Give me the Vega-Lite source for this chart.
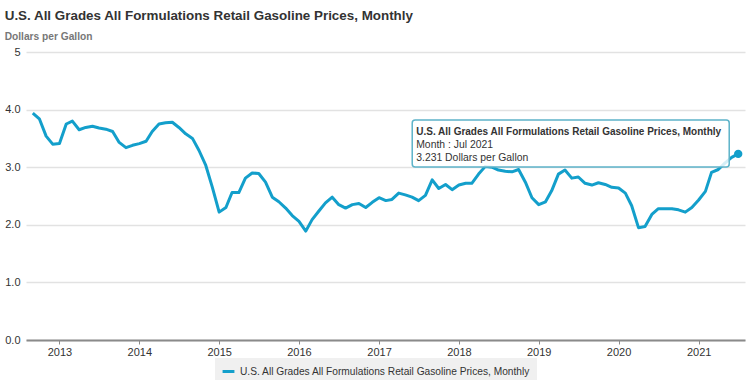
{
  "$schema": "https://vega.github.io/schema/vega-lite/v6.json",
  "width": 719,
  "height": 288,
  "autosize": {"type": "none"},
  "padding": {"left": 26, "right": 5, "top": 52, "bottom": 40},
  "background": "white",
  "config": {
    "font": "Liberation Sans",
    "view": {"stroke": null}
  },
  "title": {
    "text": "U.S. All Grades All Formulations Retail Gasoline Prices, Monthly",
    "subtitle": "Dollars per Gallon",
    "anchor": "start",
    "frame": "bounds",
    "fontSize": 13.4,
    "fontWeight": "bold",
    "color": "#333333",
    "subtitleFontSize": 10.2,
    "subtitleFontWeight": "bold",
    "subtitleColor": "#777777",
    "subtitlePadding": 9,
    "offset": 4
  },
  "datasets": {
    "prices": [
      {"date": "2012-09-01", "price": 3.94},
      {"date": "2012-10-01", "price": 3.84},
      {"date": "2012-11-01", "price": 3.54},
      {"date": "2012-12-01", "price": 3.40},
      {"date": "2013-01-01", "price": 3.41},
      {"date": "2013-02-01", "price": 3.75},
      {"date": "2013-03-01", "price": 3.80},
      {"date": "2013-04-01", "price": 3.65},
      {"date": "2013-05-01", "price": 3.69},
      {"date": "2013-06-01", "price": 3.71},
      {"date": "2013-07-01", "price": 3.68},
      {"date": "2013-08-01", "price": 3.66},
      {"date": "2013-09-01", "price": 3.62},
      {"date": "2013-10-01", "price": 3.43},
      {"date": "2013-11-01", "price": 3.34},
      {"date": "2013-12-01", "price": 3.38},
      {"date": "2014-01-01", "price": 3.41},
      {"date": "2014-02-01", "price": 3.45},
      {"date": "2014-03-01", "price": 3.62},
      {"date": "2014-04-01", "price": 3.75},
      {"date": "2014-05-01", "price": 3.77},
      {"date": "2014-06-01", "price": 3.78},
      {"date": "2014-07-01", "price": 3.69},
      {"date": "2014-08-01", "price": 3.58},
      {"date": "2014-09-01", "price": 3.50},
      {"date": "2014-10-01", "price": 3.29},
      {"date": "2014-11-01", "price": 3.03},
      {"date": "2014-12-01", "price": 2.65},
      {"date": "2015-01-01", "price": 2.22},
      {"date": "2015-02-01", "price": 2.30},
      {"date": "2015-03-01", "price": 2.56},
      {"date": "2015-04-01", "price": 2.56},
      {"date": "2015-05-01", "price": 2.81},
      {"date": "2015-06-01", "price": 2.90},
      {"date": "2015-07-01", "price": 2.89},
      {"date": "2015-08-01", "price": 2.74},
      {"date": "2015-09-01", "price": 2.48},
      {"date": "2015-10-01", "price": 2.40},
      {"date": "2015-11-01", "price": 2.29},
      {"date": "2015-12-01", "price": 2.16},
      {"date": "2016-01-01", "price": 2.06},
      {"date": "2016-02-01", "price": 1.89},
      {"date": "2016-03-01", "price": 2.09},
      {"date": "2016-04-01", "price": 2.24},
      {"date": "2016-05-01", "price": 2.38},
      {"date": "2016-06-01", "price": 2.48},
      {"date": "2016-07-01", "price": 2.35},
      {"date": "2016-08-01", "price": 2.29},
      {"date": "2016-09-01", "price": 2.35},
      {"date": "2016-10-01", "price": 2.37},
      {"date": "2016-11-01", "price": 2.30},
      {"date": "2016-12-01", "price": 2.39},
      {"date": "2017-01-01", "price": 2.47},
      {"date": "2017-02-01", "price": 2.42},
      {"date": "2017-03-01", "price": 2.44},
      {"date": "2017-04-01", "price": 2.55},
      {"date": "2017-05-01", "price": 2.52},
      {"date": "2017-06-01", "price": 2.48},
      {"date": "2017-07-01", "price": 2.42},
      {"date": "2017-08-01", "price": 2.51},
      {"date": "2017-09-01", "price": 2.78},
      {"date": "2017-10-01", "price": 2.63},
      {"date": "2017-11-01", "price": 2.70},
      {"date": "2017-12-01", "price": 2.61},
      {"date": "2018-01-01", "price": 2.69},
      {"date": "2018-02-01", "price": 2.72},
      {"date": "2018-03-01", "price": 2.72},
      {"date": "2018-04-01", "price": 2.88},
      {"date": "2018-05-01", "price": 3.01},
      {"date": "2018-06-01", "price": 3.00},
      {"date": "2018-07-01", "price": 2.95},
      {"date": "2018-08-01", "price": 2.93},
      {"date": "2018-09-01", "price": 2.92},
      {"date": "2018-10-01", "price": 2.96},
      {"date": "2018-11-01", "price": 2.74},
      {"date": "2018-12-01", "price": 2.47},
      {"date": "2019-01-01", "price": 2.35},
      {"date": "2019-02-01", "price": 2.40},
      {"date": "2019-03-01", "price": 2.59},
      {"date": "2019-04-01", "price": 2.88},
      {"date": "2019-05-01", "price": 2.95},
      {"date": "2019-06-01", "price": 2.81},
      {"date": "2019-07-01", "price": 2.83},
      {"date": "2019-08-01", "price": 2.72},
      {"date": "2019-09-01", "price": 2.69},
      {"date": "2019-10-01", "price": 2.73},
      {"date": "2019-11-01", "price": 2.70},
      {"date": "2019-12-01", "price": 2.65},
      {"date": "2020-01-01", "price": 2.64},
      {"date": "2020-02-01", "price": 2.55},
      {"date": "2020-03-01", "price": 2.33},
      {"date": "2020-04-01", "price": 1.95},
      {"date": "2020-05-01", "price": 1.97},
      {"date": "2020-06-01", "price": 2.18},
      {"date": "2020-07-01", "price": 2.28},
      {"date": "2020-08-01", "price": 2.28},
      {"date": "2020-09-01", "price": 2.28},
      {"date": "2020-10-01", "price": 2.26},
      {"date": "2020-11-01", "price": 2.22},
      {"date": "2020-12-01", "price": 2.30},
      {"date": "2021-01-01", "price": 2.43},
      {"date": "2021-02-01", "price": 2.58},
      {"date": "2021-03-01", "price": 2.91},
      {"date": "2021-04-01", "price": 2.96},
      {"date": "2021-05-01", "price": 3.07},
      {"date": "2021-06-01", "price": 3.17},
      {"date": "2021-07-01", "price": 3.231}
    ],
    "hover": [
      {
        "date": "2021-07-01",
        "price": 3.231,
        "series": "U.S. All Grades All Formulations Retail Gasoline Prices, Monthly",
        "detail": "Month : Jul 2021\n3.231 Dollars per Gallon"
      }
    ]
  },
  "encoding": {
    "x": {
      "field": "date",
      "type": "temporal",
      "scale": {
        "type": "utc",
        "domain": [
          {"year": 2012, "month": 8, "date": 1, "utc": true},
          {"year": 2021, "month": 8, "date": 1, "utc": true}
        ]
      },
      "axis": {
        "title": null,
        "format": "%Y",
        "formatType": "utc",
        "tickCount": {"interval": "year", "step": 1},
        "grid": false,
        "domainColor": "#8a8a8a",
        "domainWidth": 2,
        "tickColor": "#8a8a8a",
        "tickSize": 4,
        "labelPadding": 2,
        "labelFontSize": 11,
        "labelColor": "#333333",
        "labelFlush": false
      }
    },
    "y": {
      "field": "price",
      "type": "quantitative",
      "scale": {"domain": [0, 5], "nice": false, "zero": true},
      "axis": {
        "title": null,
        "values": [0, 1, 2, 3, 4, 5],
        "labelExpr": "datum.value == 5 ? '5' : format(datum.value, '.1f')",
        "domain": false,
        "ticks": false,
        "labelPadding": 6,
        "labelFontSize": 11,
        "labelColor": "#333333",
        "gridColor": "#e2e2e2",
        "gridWidth": 1.5
      }
    }
  },
  "layer": [
    {
      "data": {"name": "prices"},
      "mark": {"type": "line", "strokeWidth": 3, "interpolate": "linear", "strokeJoin": "round"},
      "encoding": {
        "color": {
          "datum": "U.S. All Grades All Formulations Retail Gasoline Prices, Monthly",
          "scale": {"range": ["#139fcb"]},
          "legend": {
            "title": null,
            "orient": "none",
            "legendX": 189,
            "legendY": 306,
            "direction": "horizontal",
            "fillColor": "#f0f0f0",
            "padding": 6,
            "symbolType": "stroke",
            "symbolSize": 140,
            "symbolStrokeWidth": 3,
            "labelFontSize": 10.2,
            "labelColor": "#333333",
            "labelLimit": 400
          }
        }
      }
    },
    {
      "data": {"name": "hover"},
      "mark": {
        "type": "rect",
        "fill": "white",
        "fillOpacity": 0.82,
        "stroke": "#5db3c9",
        "strokeWidth": 1.5,
        "cornerRadius": 3,
        "xOffset": -326,
        "x2Offset": -9,
        "yOffset": -34,
        "y2Offset": 13
      },
      "encoding": {
        "x2": {"field": "date"},
        "y2": {"field": "price"}
      }
    },
    {
      "data": {"name": "hover"},
      "mark": {
        "type": "text",
        "align": "left",
        "baseline": "alphabetic",
        "dx": -322,
        "dy": -19,
        "fontSize": 10,
        "fontWeight": "bold",
        "color": "#333333"
      },
      "encoding": {"text": {"field": "series"}}
    },
    {
      "data": {"name": "hover"},
      "mark": {
        "type": "text",
        "align": "left",
        "baseline": "alphabetic",
        "dx": -322,
        "dy": -6,
        "fontSize": 10.4,
        "lineHeight": 13,
        "lineBreak": "\n",
        "color": "#333333"
      },
      "encoding": {"text": {"field": "detail"}}
    },
    {
      "data": {"name": "hover"},
      "mark": {"type": "point", "filled": true, "size": 70, "opacity": 1, "color": "#139fcb"},
      "encoding": {}
    }
  ]
}
